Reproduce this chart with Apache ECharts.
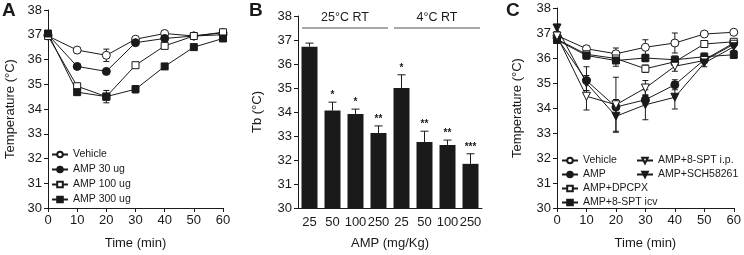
<!DOCTYPE html>
<html>
<head>
    <meta charset="utf-8">
    <title>AMP hypothermia</title>
    <script src="https://cdn.jsdelivr.net/npm/echarts@6/dist/echarts.min.js"></script>
    <style>
        html, body {
            margin: 0;
            padding: 0;
            background: #ffffff;
        }

        #chart {
            width: 744px;
            height: 255px;
        }
    </style>
</head>
<body>
<div id="chart"></div>
<script>
    // ---- panel A: time course, AMP doses ----
    var timeA = [0, 10, 20, 30, 40, 50, 60];
    var vehicleA = [36.95, 36.38, 36.17, 36.82, 37.05, 36.95, 37.08];
    var amp30A = [37.0, 35.72, 35.52, 36.68, 36.85, 36.95, 37.0];
    var amp100A = [36.95, 34.92, 34.5, 35.77, 36.55, 36.95, 37.1];
    var amp300A = [37.05, 34.68, 34.5, 34.8, 35.72, 36.5, 36.85];
    var vehicleErrA = [0.05, 0.08, 0.25, 0.08, 0.06, 0.08, 0.08];
    var amp30ErrA = [0.05, 0.08, 0.08, 0.08, 0.08, 0.06, 0.06];
    var amp100ErrA = [0.05, 0.1, 0.12, 0.08, 0.08, 0.06, 0.06];
    var amp300ErrA = [0.1, 0.12, 0.25, 0.15, 0.1, 0.08, 0.08];

    // ---- panel B: Tb at two room temperatures ----
    var doseB = ['25', '50', '100', '250', '25', '50', '100', '250'];
    var tbB = [36.72, 34.06, 33.92, 33.12, 35.0, 32.75, 32.63, 31.84];
    var tbErrB = [0.15, 0.35, 0.2, 0.3, 0.55, 0.45, 0.2, 0.42];
    var starsB = ['', '*', '*', '**', '*', '**', '**', '***'];
    var groupsB = ['25°C RT', '4°C RT'];
    var groupSpanB = [[0, 3], [4, 7]];

    // ---- panel C: antagonists ----
    var timeC = [0, 10, 20, 30, 40, 50, 60];
    var vehicleC = [36.9, 36.37, 36.17, 36.43, 36.6, 36.96, 37.03];
    var ampC = [36.8, 35.1, 34.04, 34.33, 34.93, 35.93, 36.6];
    var dpcpxC = [36.75, 36.15, 35.98, 35.57, 35.85, 36.56, 36.65];
    var sptIcvC = [36.72, 36.1, 35.9, 36.0, 35.93, 36.05, 36.13];
    var sptIpC = [36.88, 34.47, 34.13, 34.8, 35.67, 35.9, 36.55];
    var schC = [37.2, 35.0, 33.67, 34.13, 34.43, 35.8, 36.45];
    var vehicleErrC = [0.1, 0.1, 0.23, 0.3, 0.4, 0.08, 0.05];
    var ampErrC = [0.15, 0.55, 0.3, 0.2, 0.2, 0.1, 0.1];
    var dpcpxErrC = [0.1, 0.1, 0.1, 0.15, 0.1, 0.1, 0.1];
    var sptIcvErrC = [0.1, 0.15, 0.23, 0.15, 0.15, 0.15, 0.15];
    var sptIpErrC = [0.15, 0.55, 1.1, 0.3, 0.2, 0.1, 0.1];
    var schErrC = [0.15, 0.3, 0.6, 0.6, 0.47, 0.15, 0.15];

    var ink = '#1a1a1a';
    var font = 'Liberation Sans, Arial, sans-serif';

    function pairs(xs, ys) {
        return xs.map(function (x, i) { return [x, ys[i]]; });
    }

    function errData(xs, ys, es) {
        return xs.map(function (x, i) { return [x, ys[i], es[i]]; });
    }

    // vertical error bar with caps
    function renderErr(params, api) {
        var x = api.value(0), y = api.value(1), e = api.value(2);
        var hi = api.coord([x, y + e]);
        var lo = api.coord([x, y - e]);
        var w = 3;
        var st = {stroke: ink, lineWidth: 1};
        return {
            type: 'group',
            children: [
                {type: 'line', shape: {x1: hi[0], y1: hi[1], x2: lo[0], y2: lo[1]}, style: st},
                {type: 'line', shape: {x1: hi[0] - w, y1: hi[1], x2: hi[0] + w, y2: hi[1]}, style: st},
                {type: 'line', shape: {x1: lo[0] - w, y1: lo[1], x2: lo[0] + w, y2: lo[1]}, style: st}
            ]
        };
    }

    // upward-only error bar + significance stars for bars
    function renderBarErr(params, api) {
        var i = api.value(0), y = api.value(1), e = api.value(2);
        var base = api.coord([i, y]);
        var top = api.coord([i, y + e]);
        var w = 4;
        var st = {stroke: ink, lineWidth: 1};
        return {
            type: 'group',
            children: [
                {type: 'line', shape: {x1: base[0], y1: base[1], x2: top[0], y2: top[1]}, style: st},
                {type: 'line', shape: {x1: top[0] - w, y1: top[1], x2: top[0] + w, y2: top[1]}, style: st},
                {
                    type: 'text',
                    style: {
                        text: starsB[params.dataIndex], x: top[0], y: top[1] - 2,
                        align: 'center', verticalAlign: 'bottom',
                        font: 'bold 10px ' + font, fill: ink
                    }
                }
            ]
        };
    }

    // group header lines ("25°C RT", "4°C RT")
    function renderGroup(params, api) {
        var a = api.value(0), b = api.value(1);
        var band = api.size([1, 0])[0];
        var p0 = api.coord([a, 37.5]);
        var p1 = api.coord([b, 37.5]);
        var t = api.coord([a, 37.93]);
        var x0 = p0[0] - band / 2 + 4, x1 = p1[0] + band / 2 - 2;
        return {
            type: 'group',
            children: [
                {type: 'line', shape: {x1: x0, y1: p0[1], x2: x1, y2: p1[1]}, style: {stroke: '#555', lineWidth: 1.2}},
                {
                    type: 'text',
                    style: {
                        text: groupsB[params.dataIndex], x: (x0 + x1) / 2, y: t[1],
                        align: 'center', verticalAlign: 'middle',
                        font: '12.5px ' + font, fill: ink
                    }
                }
            ]
        };
    }

    function lineSeries(name, data, axis, symbol, filled) {
        return {
            name: name,
            type: 'line',
            xAxisIndex: axis,
            yAxisIndex: axis,
            data: data,
            symbol: symbol === 'down' ? 'triangle' : symbol,
            symbolRotate: symbol === 'down' ? 180 : 0,
            symbolSize: symbol === 'rect' ? 7 : 8,
            z: 3,
            lineStyle: {color: ink, width: 1},
            itemStyle: {color: filled ? ink : '#ffffff', borderColor: ink, borderWidth: 1},
            emphasis: {disabled: true}
        };
    }

    function errSeries(data, axis) {
        return {
            type: 'custom',
            xAxisIndex: axis,
            yAxisIndex: axis,
            data: data,
            renderItem: renderErr,
            z: 2,
            silent: true
        };
    }

    var axisText = {color: ink, fontSize: 13, fontFamily: font};
    var axisLine = {lineStyle: {color: ink, width: 1}};
    var axisTick = {inside: false, length: 4, lineStyle: {color: ink}};

    function timeAxis(grid) {
        return {
            gridIndex: grid, type: 'value', min: 0, max: 60, interval: 10,
            name: 'Time (min)', nameLocation: 'middle', nameGap: 29,
            nameTextStyle: axisText,
            axisLine: axisLine, axisTick: axisTick,
            axisLabel: Object.assign({margin: 6}, axisText),
            splitLine: {show: false}
        };
    }

    function tempAxis(grid, name, gap) {
        return {
            gridIndex: grid, type: 'value', min: 30, max: 38, interval: 1,
            name: name, nameLocation: 'middle', nameGap: gap,
            nameTextStyle: axisText,
            axisLine: Object.assign({show: true}, axisLine), axisTick: Object.assign({show: true}, axisTick),
            axisLabel: Object.assign({margin: 6}, axisText),
            splitLine: {show: false}
        };
    }

    var chart = echarts.init(document.getElementById('chart'), null, {renderer: 'canvas'});

    var legendText = {color: ink, fontSize: 10.5, fontFamily: font, lineHeight: 11};

    var option = {
        animation: false,
        backgroundColor: '#ffffff',
        title: [
            {text: 'A', left: 2, top: 1, padding: 0, textStyle: {fontSize: 19, fontWeight: 'bold', color: ink, fontFamily: font}},
            {text: 'B', left: 249, top: 1, padding: 0, textStyle: {fontSize: 19, fontWeight: 'bold', color: ink, fontFamily: font}},
            {text: 'C', left: 506, top: 1, padding: 0, textStyle: {fontSize: 19, fontWeight: 'bold', color: ink, fontFamily: font}}
        ],
        grid: [
            {left: 48, top: 10, width: 175, height: 202},
            {left: 298, top: 16, width: 184, height: 196},
            {left: 557, top: 8, width: 182, height: 204}
        ],
        legend: [
            {
                orient: 'vertical', left: 51, top: 149, padding: 0, itemGap: 4,
                itemWidth: 16, itemHeight: 7, textStyle: legendText,
                data: ['Vehicle', 'AMP 30 ug', 'AMP 100 ug', 'AMP 300 ug']
            },
            {
                orient: 'vertical', left: 561, top: 155, padding: 0, itemGap: 3,
                itemWidth: 16, itemHeight: 7, textStyle: legendText,
                data: ['Vehicle', 'AMP', 'AMP+DPCPX', 'AMP+8-SPT icv']
            },
            {
                orient: 'vertical', left: 636, top: 155, padding: 0, itemGap: 3,
                itemWidth: 16, itemHeight: 7, textStyle: legendText,
                data: ['AMP+8-SPT i.p.', 'AMP+SCH58261']
            }
        ],
        xAxis: [
            timeAxis(0),
            {
                gridIndex: 1, type: 'category', data: doseB,
                name: 'AMP (mg/Kg)', nameLocation: 'middle', nameGap: 29,
                nameTextStyle: axisText,
                axisLine: axisLine, axisTick: {show: false},
                axisLabel: Object.assign({margin: 8, interval: 0}, axisText)
            },
            timeAxis(2)
        ],
        yAxis: [
            tempAxis(0, 'Temperature (°C)', 31),
            tempAxis(1, 'Tb (°C)', 34),
            tempAxis(2, 'Temperature (°C)', 33)
        ],
        series: [
            errSeries(errData(timeA, vehicleA, vehicleErrA), 0),
            errSeries(errData(timeA, amp30A, amp30ErrA), 0),
            errSeries(errData(timeA, amp100A, amp100ErrA), 0),
            errSeries(errData(timeA, amp300A, amp300ErrA), 0),
            lineSeries('Vehicle', pairs(timeA, vehicleA), 0, 'circle', false),
            lineSeries('AMP 30 ug', pairs(timeA, amp30A), 0, 'circle', true),
            lineSeries('AMP 100 ug', pairs(timeA, amp100A), 0, 'rect', false),
            lineSeries('AMP 300 ug', pairs(timeA, amp300A), 0, 'rect', true),

            {
                type: 'bar', xAxisIndex: 1, yAxisIndex: 1, data: tbB,
                barWidth: 16, itemStyle: {color: ink}, z: 2, silent: true
            },
            {
                type: 'custom', xAxisIndex: 1, yAxisIndex: 1, renderItem: renderBarErr, z: 3, silent: true,
                data: tbB.map(function (v, i) { return [i, v, tbErrB[i]]; })
            },
            {
                type: 'custom', xAxisIndex: 1, yAxisIndex: 1, renderItem: renderGroup, z: 3, silent: true,
                clip: false, data: groupSpanB
            },

            errSeries(errData(timeC, vehicleC, vehicleErrC), 2),
            errSeries(errData(timeC, ampC, ampErrC), 2),
            errSeries(errData(timeC, dpcpxC, dpcpxErrC), 2),
            errSeries(errData(timeC, sptIcvC, sptIcvErrC), 2),
            errSeries(errData(timeC, sptIpC, sptIpErrC), 2),
            errSeries(errData(timeC, schC, schErrC), 2),
            lineSeries('Vehicle', pairs(timeC, vehicleC), 2, 'circle', false),
            lineSeries('AMP', pairs(timeC, ampC), 2, 'circle', true),
            lineSeries('AMP+DPCPX', pairs(timeC, dpcpxC), 2, 'rect', false),
            lineSeries('AMP+8-SPT icv', pairs(timeC, sptIcvC), 2, 'rect', true),
            lineSeries('AMP+8-SPT i.p.', pairs(timeC, sptIpC), 2, 'down', false),
            lineSeries('AMP+SCH58261', pairs(timeC, schC), 2, 'down', true)
        ]
    };

    chart.setOption(option);

    window.onresize = function () {
        chart.resize();
    };
</script>
</body>
</html>
